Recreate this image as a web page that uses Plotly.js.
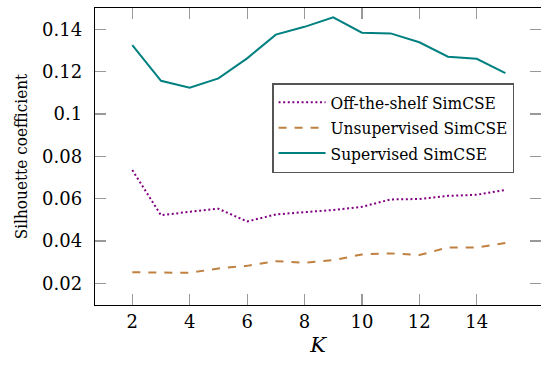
<!DOCTYPE html>
<html>
<head>
<meta charset="utf-8">
<script src="https://cdn.plot.ly/plotly-3.0.1.min.js"></script>
<style>html,body{margin:0;padding:0;background:#fff;}#chart{width:541px;height:365px;}</style>
</head>
<body>
<div id="chart"></div>
<script>
const K = [2,3,4,5,6,7,8,9,10,11,12,13,14,15];
const offTheShelf = [0.0735,0.0521,0.0538,0.0552,0.0492,0.0525,0.0536,0.0546,0.0561,0.0596,0.0598,0.0613,0.0618,0.0641];
const unsupervised = [0.0252,0.0252,0.0249,0.0270,0.0282,0.0304,0.0297,0.0309,0.0336,0.0341,0.0333,0.0369,0.0369,0.0390];
const supervised = [0.1326,0.1157,0.1124,0.1168,0.1263,0.1375,0.1412,0.1457,0.1384,0.1381,0.1339,0.1271,0.1261,0.1193];
const seriesNames = ["Off-the-shelf SimCSE","Unsupervised SimCSE","Supervised SimCSE"];
const xTicks = [2,4,6,8,10,12,14];
const yTicks = [0.02,0.04,0.06,0.08,0.1,0.12,0.14];
const yTickText = ["0.02","0.04","0.06","0.08","0.1","0.12","0.14"];

const traces = [
  {x:K, y:offTheShelf, name:seriesNames[0], mode:'lines', line:{color:'#800080', width:2, dash:'2px,2.6px'}},
  {x:K, y:unsupervised, name:seriesNames[1], mode:'lines', line:{color:'#bf8040', width:2, dash:'8px,8px'}},
  {x:K, y:supervised, name:seriesNames[2], mode:'lines', line:{color:'#008080', width:2}}
];
const serif = 'DejaVu Serif';
const layout = {
  width:541, height:365,
  margin:{l:95, r:0, t:8, b:60},
  paper_bgcolor:'#fff', plot_bgcolor:'#fff',
  font:{family:serif, size:18, color:'#000'},
  showlegend:true,
  legend:{x:0.397, y:0.747, xanchor:'left', yanchor:'top', bgcolor:'#fff', bordercolor:'#555', borderwidth:1.5,
          font:{family:'DejaVu Serif Condensed', size:17.2, color:'#000'}, itemwidth:47, tracegroupgap:0},
  xaxis:{range:[0.7,16.24], tickvals:xTicks, ticktext:xTicks.map(String), ticks:'inside', ticklen:11, tickwidth:1.2, tickcolor:'#999',
         showline:true, linecolor:'#000', linewidth:1.2, mirror:'ticks', showgrid:false, zeroline:false,
         tickfont:{family:serif, size:18}, title:{text:'<i>K</i>', font:{family:serif, size:21}, standoff:6}},
  yaxis:{range:[0.0097,0.1501], tickvals:yTicks, ticktext:yTickText, ticks:'inside', ticklen:11, tickwidth:1.2, tickcolor:'#999',
         showline:true, linecolor:'#000', linewidth:1.2, mirror:'ticks', showgrid:false, zeroline:false,
         tickfont:{family:serif, size:18}, ticklabelstandoff:8,
         title:{text:'Silhouette coefficient', font:{family:'DejaVu Serif Condensed', size:17}, standoff:10}}
};
Plotly.newPlot('chart', traces, layout, {displayModeBar:false, staticPlot:true});
</script>
</body>
</html>
